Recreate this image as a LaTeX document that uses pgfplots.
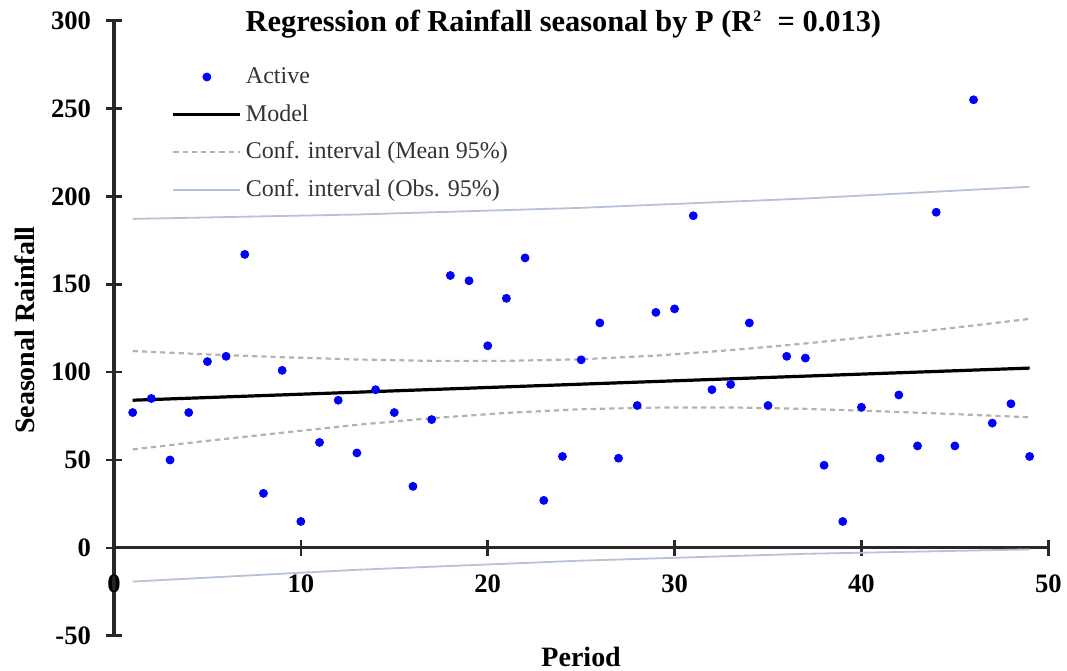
\documentclass[border=0pt]{standalone}
\usepackage{fontspec}
\setmainfont{Liberation Serif}
\usepackage{pgfplots}
\pgfplotsset{compat=1.18}
\definecolor{ptblue}{RGB}{0,0,255}
\definecolor{meangray}{RGB}{178,178,178}
\definecolor{obsblue}{RGB}{182,194,214}
\definecolor{axgray}{RGB}{40,40,40}

\begin{document}
\begin{tikzpicture}
\begin{axis}[
  scale only axis, width=467.2pt, height=307.5pt,
  xmin=0, xmax=50, ymin=-50, ymax=300,
  enlargelimits=false,
  axis x line=middle, axis y line=left,
  axis line style={-, axgray, line width=1.6pt},
  every inner x axis line/.append style={-},
  every outer y axis line/.append style={-},
  hide obscured x ticks=false, hide obscured y ticks=false,
  xtick={0,10,...,50}, ytick={-50,0,...,300},
  tick align=center, major tick length=8pt,
  tick style={axgray, line width=1.3pt},
  tick label style={font=\bfseries\fontsize{13.3}{15}\selectfont},
  /pgf/number format/assume math mode=true,
  xticklabel style={yshift=-6pt},
  yticklabel style={xshift=-4pt},
  every axis title/.style={at={(axis description cs:0.481,0.994)}, anchor=center,
    font=\bfseries\fontsize{15.2}{17}\selectfont},
  title={Regression of Rainfall seasonal by P (R\textsuperscript{\footnotesize 2}\ \ = 0.013)},
  every axis x label/.style={at={(axis description cs:0.5,-0.035)}, anchor=center,
    font=\bfseries\fontsize{14}{16}\selectfont},
  every axis y label/.style={at={(axis description cs:-0.0953,0.497)}, anchor=center,
    rotate=90, font=\bfseries\fontsize{14}{16}\selectfont},
  xlabel={Period}, ylabel={Seasonal Rainfall},
  legend style={draw=none, fill=none, at={(axis description cs:0.055,0.9375)},
    anchor=north west, font=\fontsize{12}{14}\selectfont, text=black!80,
    row sep=5pt, cells={anchor=west}},
  legend image code/.code={\draw[mark repeat=2,mark phase=2,#1] plot coordinates {(0pt,0pt)(16.75pt,0pt)(33.5pt,0pt)};},
]
\addplot[only marks, mark=*, mark size=2pt, color=ptblue] table {
x y
1 77
2 85
3 50
4 77
5 106
6 109
7 167
8 31
9 101
10 15
11 60
12 84
13 54
14 90
15 77
16 35
17 73
18 155
19 152
20 115
21 142
22 165
23 27
24 52
25 107
26 128
27 51
28 81
29 134
30 136
31 189
32 90
33 93
34 128
35 81
36 109
37 108
38 47
39 15
40 80
41 51
42 87
43 58
44 191
45 58
46 255
47 71
48 82
49 52
};
\addlegendentry{Active}
\addplot[black, line width=1.6pt] coordinates {(1,84.0)(49,102.3)};
\addlegendentry{Model}
\addplot[meangray, line width=1.1pt, dash pattern=on 2.6pt off 2pt] coordinates {
  (1,112.0)(5,110.1)(9,108.5)(13,107.2)(17,106.4)(21,106.4)(25,107.3)
  (29,109.4)(33,112.5)(37,116.3)(41,120.7)(45,125.3)(49,130.3)};
\addlegendentry{Conf. interval (Mean 95\%)}
\addplot[meangray, line width=1.1pt, dash pattern=on 2.6pt off 2pt, forget plot] coordinates {
  (1,56.0)(5,60.9)(9,65.5)(13,70.0)(17,73.8)(21,76.8)(25,78.9)
  (29,79.8)(33,79.9)(37,79.1)(41,77.7)(45,76.1)(49,74.3)};
\addplot[obsblue, line width=0.9pt] coordinates {
  (1,187.2)(13,189.7)(25,193.5)(37,198.8)(49,205.5)};
\addlegendentry{Conf. interval (Obs. 95\%)}
\addplot[obsblue, line width=0.9pt, forget plot] coordinates {
  (1,-19.2)(13,-12.5)(25,-7.3)(37,-3.4)(49,-0.9)};
\coordinate (bl) at (rel axis cs:-0.1220,-0.0574);
\coordinate (tr) at (rel axis cs:1.0200,1.0337);
\end{axis}
\pgfresetboundingbox
\useasboundingbox (bl) rectangle (tr);
\end{tikzpicture}
\end{document}
